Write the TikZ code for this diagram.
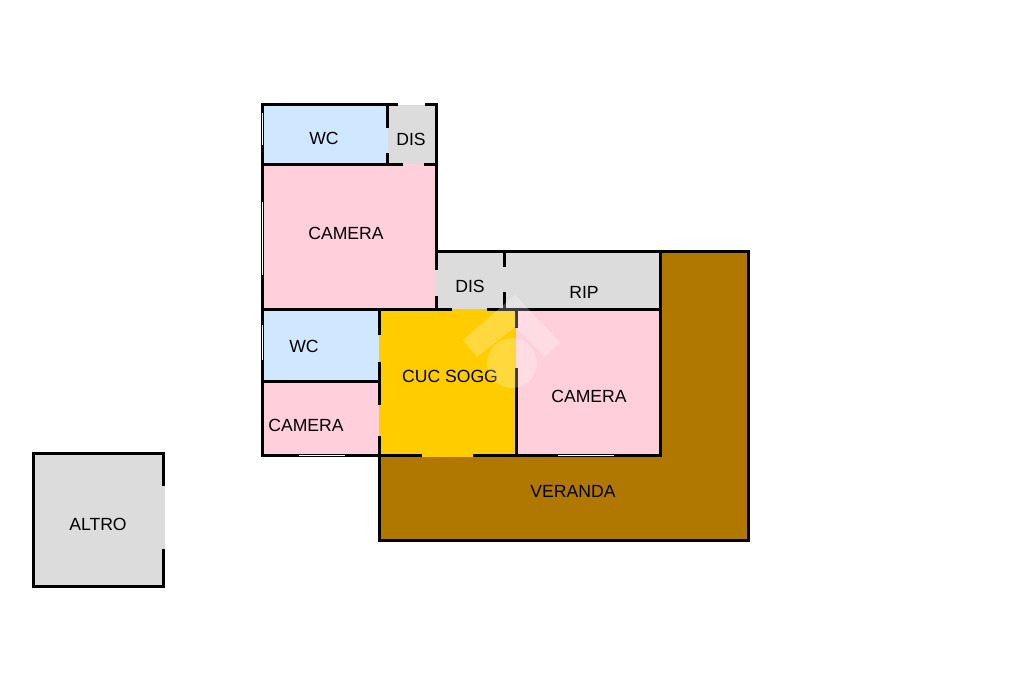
\documentclass[tikz,border=0pt]{standalone}
\usepackage{fontspec}
\setmainfont{Liberation Sans}
\definecolor{pinkroom}{HTML}{FFD0DC}
\definecolor{blueroom}{HTML}{D0E8FF}
\definecolor{grayroom}{HTML}{DCDCDC}
\definecolor{yellowroom}{HTML}{FFCC00}
\definecolor{brownroom}{HTML}{B07800}
\tikzset{
  wall/.style={line width=3pt,black,line cap=rect},
  windowline/.style={line width=1pt,white},
  roomlabel/.style={font=\fontsize{17.6}{20}\selectfont,text=black,inner sep=0pt},
  logo/.style={fill=white,fill opacity=.24,draw=none}
}
\begin{document}
\begin{tikzpicture}[x=1pt,y=-1pt]
\useasboundingbox (0,0) rectangle (1024,682);
% room fills
\fill[brownroom] (379,251) rectangle (748,540);
\fill[blueroom] (262,105) rectangle (388,164);
\fill[grayroom] (388,105) rectangle (436,165);
\fill[pinkroom] (262,164) rectangle (436,309);
\fill[grayroom] (436,251) rectangle (660,309);
\fill[blueroom] (262,309) rectangle (379,381);
\fill[pinkroom] (262,381) rectangle (379,455);
\fill[yellowroom] (379,309) rectangle (516,457);
\fill[pinkroom] (516,309) rectangle (660,455);
\fill[grayroom] (33,453) rectangle (165,586);
% upper wing walls
\draw[wall] (262,105) -- (387,105);
\draw[wall] (262,105) -- (262,309);
\draw[wall] (262,164) -- (401.5,164);
\draw[wall] (425.5,164) -- (436,164);
\draw[wall] (387,105) -- (387,126.5);
\draw[wall] (387,154.5) -- (387,164);
\draw[wall] (387,105) -- (396.5,105);
\draw[wall] (426.5,105) -- (436,105);
\draw[wall] (436,105) -- (436,268.5);
\draw[wall] (436,297.5) -- (436,309);
% middle walls
\draw[wall] (436,251) -- (748,251);
\draw[wall] (504,251) -- (504,265.5);
\draw[wall] (504,293.5) -- (504,309);
\draw[wall] (262,309) -- (450.5,309);
\draw[wall] (488.5,309) -- (660,309);
\draw[wall] (660,251) -- (660,455);
\draw[wall] (516,309) -- (516,326.5);
\draw[wall] (516,369.5) -- (516,455);
% lower left walls
\draw[wall] (262,309) -- (262,455);
\draw[wall] (262,381) -- (379,381);
\draw[wall] (379,309) -- (379,333.5);
\draw[wall] (379,363.5) -- (379,403.5);
\draw[wall] (379,437.5) -- (379,540);
\draw[wall] (262,455) -- (420.5,455);
\draw[wall] (474.5,455) -- (660,455);
% outer veranda walls
\draw[wall] (748,251) -- (748,540);
\draw[wall] (379,540) -- (748,540);
% altro walls
\draw[wall] (163,484.5) -- (163,453) -- (33,453) -- (33,586) -- (163,586) -- (163,550.5);
% windows
\draw[windowline] (262,113) -- (262,145);
\draw[windowline] (262,202) -- (262,275);
\draw[windowline] (262,325) -- (262,360);
\draw[windowline] (299,455) -- (345,455);
\draw[windowline] (558,455) -- (614,455);
% labels
\node[roomlabel] (wcA) at (324,138) {WC};
\node[roomlabel] (disA) at (411,139) {DIS};
\node[roomlabel] (camA) at (346,233) {CAMERA};
\node[roomlabel] (disB) at (470,286) {DIS};
\node[roomlabel] (rip) at (584,292) {RIP};
\node[roomlabel] (wcB) at (304,346) {WC};
\node[roomlabel] (cuc) at (450,376) {CUC SOGG};
\node[roomlabel] (camB) at (589,396) {CAMERA};
\node[roomlabel] (camC) at (306,425) {CAMERA};
\node[roomlabel] (ver) at (573,491) {VERANDA};
\node[roomlabel] (alt) at (98,524) {ALTRO};
% watermark
\fill[logo] (515,295) -- (560,342) -- (545,357) -- (515,327) -- (477,357) -- (463,340) -- cycle;
\fill[logo] (512,363) circle (25);
\end{tikzpicture}
\end{document}
